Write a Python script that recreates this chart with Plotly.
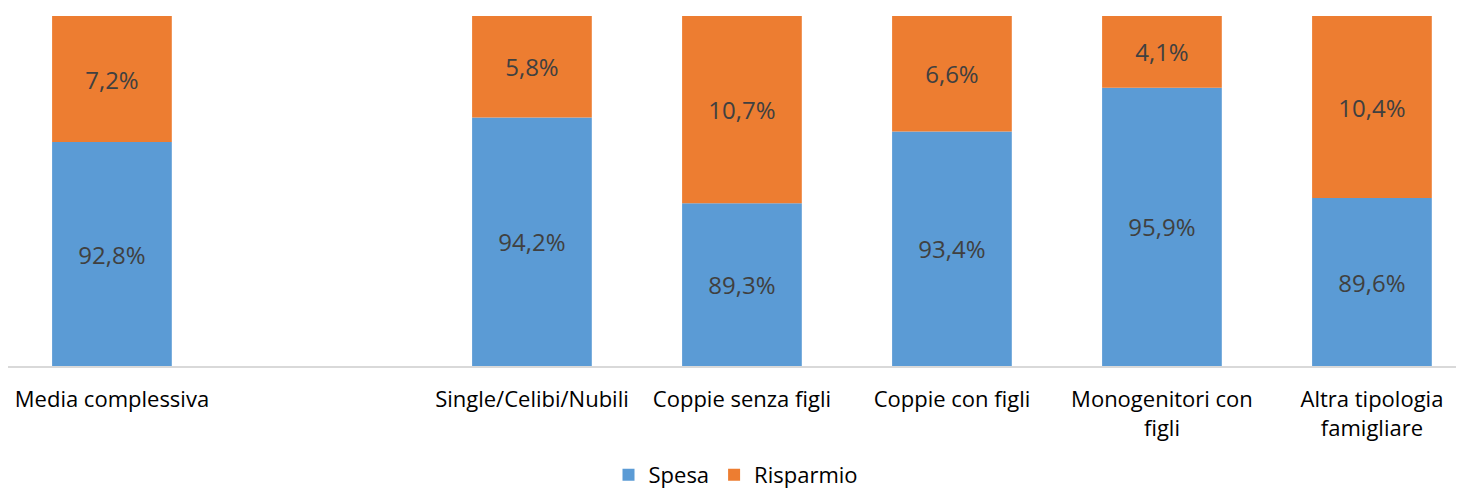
import plotly.graph_objects as go

categories = ["Media complessiva", " ", "Single/Celibi/Nubili", "Coppie senza figli",
              "Coppie con figli", "Monogenitori con<br>figli", "Altra tipologia<br>famigliare"]
spesa = [92.8, None, 94.2, 89.3, 93.4, 95.9, 89.6]
risparmio = [7.2, None, 5.8, 10.7, 6.6, 4.1, 10.4]
axis_min = 80
axis_max = 100

def fmt(v):
    return "" if v is None else f"{v:.1f}%".replace(".", ",")

BLUE = "#5B9BD5"
ORANGE = "#ED7D31"
FONT = "Open Sans"

fig = go.Figure()
fig.add_trace(go.Bar(
    name="Spesa", x=categories,
    y=[None if v is None else v - axis_min for v in spesa],
    base=axis_min,
    marker=dict(color=BLUE, line=dict(width=0)),
    text=[fmt(v) for v in spesa], textposition="inside", insidetextanchor="middle",
    textfont=dict(family=FONT, size=24, color="#404040"),
    textangle=0,
))
fig.add_trace(go.Bar(
    name="Risparmio", x=categories, y=risparmio,
    base=[axis_min if v is None else v for v in spesa],
    marker=dict(color=ORANGE, line=dict(width=0)),
    text=[fmt(v) for v in risparmio], textposition="inside", insidetextanchor="middle",
    textfont=dict(family=FONT, size=24, color="#404040"),
    textangle=0,
))

# page body has an 8px margin: figure sized to fit the 1464x492 window
fig.update_layout(
    width=1456, height=484,
    margin=dict(l=0, r=0, t=8, b=126),
    barmode="overlay", bargap=0.43,
    plot_bgcolor="white", paper_bgcolor="white",
    font=dict(family=FONT, color="#000000"),
    uniformtext=dict(mode=False),
    showlegend=True,
    legend=dict(orientation="h", x=0.5, xanchor="center",
                yref="container", y=17 / 484, yanchor="middle",
                font=dict(family=FONT, size=22, color="#000000"),
                itemsizing="constant", traceorder="normal"),
    xaxis=dict(type="category", range=[-0.495, -0.495 + 1456 / 210], showgrid=False,
               showline=True, linecolor="#D9D9D9", linewidth=2, ticks="",
               tickfont=dict(family=FONT, size=22, color="#000000"),
               ticklabelstandoff=13, fixedrange=True, automargin=False),
    yaxis=dict(range=[axis_min, axis_max], showgrid=False, showticklabels=False,
               zeroline=False, showline=False, fixedrange=True, automargin=False),
)

fig.write_html("out.html")
